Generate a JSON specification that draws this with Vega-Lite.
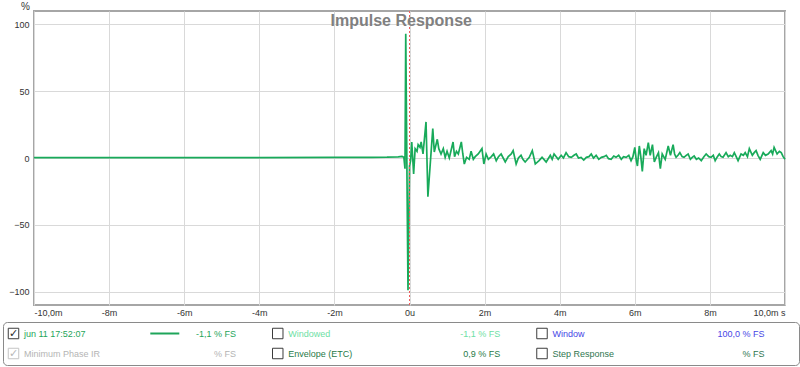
{
  "$schema": "https://vega.github.io/schema/vega-lite/v6.json",
  "padding": {"left": 2, "top": 0, "right": 0, "bottom": 0},
  "spacing": 4,
  "config": {
    "font": "Liberation Sans",
    "axis": {"labelFont": "Liberation Sans", "labelFontSize": 9, "labelColor": "#333333", "ticks": false, "domain": false, "gridColor": "#d9d9d9", "gridWidth": 1}
  },
  "datasets": {
    "trace": [
      {"t": -10, "v": 0.3}, {"t": -8, "v": 0.3}, {"t": -6, "v": 0.3}, {"t": -4, "v": 0.3}, {"t": -2, "v": 0.4},
      {"t": -1, "v": 0.5}, {"t": -0.6, "v": 0.6}, {"t": -0.3, "v": 0.9}, {"t": -0.2, "v": 1.2}, {"t": -0.15, "v": 0.5},
      {"t": -0.12, "v": -8}, {"t": -0.1, "v": 93}, {"t": -0.04, "v": -99}, {"t": 0.0, "v": -6}, {"t": 0.03, "v": -2},
      {"t": 0.06, "v": 12}, {"t": 0.11, "v": -12}, {"t": 0.15, "v": 7}, {"t": 0.2, "v": 5}, {"t": 0.23, "v": 10},
      {"t": 0.28, "v": 8}, {"t": 0.31, "v": 12}, {"t": 0.36, "v": 3}, {"t": 0.44, "v": 27}, {"t": 0.49, "v": -29},
      {"t": 0.62, "v": 22}, {"t": 0.66, "v": 4.5}, {"t": 0.74, "v": 14}, {"t": 0.78, "v": 7}, {"t": 0.84, "v": 3},
      {"t": 0.9, "v": 7}, {"t": 0.95, "v": 0.5}, {"t": 1.0, "v": 5}, {"t": 1.06, "v": 0}, {"t": 1.16, "v": 12},
      {"t": 1.2, "v": 1}, {"t": 1.25, "v": 5}, {"t": 1.3, "v": 3}, {"t": 1.38, "v": 12}, {"t": 1.42, "v": 3},
      {"t": 1.46, "v": -4.5}, {"t": 1.52, "v": 0.5}, {"t": 1.59, "v": -1}, {"t": 1.64, "v": 5}, {"t": 1.7, "v": -1},
      {"t": 1.75, "v": 1}, {"t": 1.83, "v": 3}, {"t": 1.93, "v": 7}, {"t": 1.98, "v": -4.5}, {"t": 2.04, "v": 3},
      {"t": 2.1, "v": -1}, {"t": 2.18, "v": 1}, {"t": 2.24, "v": 3}, {"t": 2.31, "v": -2}, {"t": 2.37, "v": 1},
      {"t": 2.44, "v": 3}, {"t": 2.55, "v": -3}, {"t": 2.63, "v": 1}, {"t": 2.71, "v": 3}, {"t": 2.76, "v": 5.5},
      {"t": 2.84, "v": -4.5}, {"t": 2.9, "v": 0}, {"t": 2.97, "v": 2}, {"t": 3.02, "v": -1}, {"t": 3.08, "v": -3},
      {"t": 3.19, "v": 0.5}, {"t": 3.27, "v": 5.5}, {"t": 3.35, "v": -4.5}, {"t": 3.45, "v": -2}, {"t": 3.53, "v": 0.5},
      {"t": 3.58, "v": -1}, {"t": 3.64, "v": -3}, {"t": 3.75, "v": 2}, {"t": 3.8, "v": -1}, {"t": 3.85, "v": 3},
      {"t": 3.96, "v": -1}, {"t": 4.04, "v": 2}, {"t": 4.1, "v": 0}, {"t": 4.17, "v": 4}, {"t": 4.24, "v": 1},
      {"t": 4.31, "v": 0.5}, {"t": 4.38, "v": 2}, {"t": 4.44, "v": 3}, {"t": 4.5, "v": 0}, {"t": 4.57, "v": 0.5},
      {"t": 4.64, "v": -1.5}, {"t": 4.71, "v": 0.5}, {"t": 4.78, "v": 1}, {"t": 4.84, "v": 3}, {"t": 4.9, "v": 0},
      {"t": 4.97, "v": 2}, {"t": 5.04, "v": -1}, {"t": 5.11, "v": 0.5}, {"t": 5.18, "v": 1}, {"t": 5.24, "v": 2},
      {"t": 5.3, "v": -0.5}, {"t": 5.37, "v": -1}, {"t": 5.44, "v": 1.5}, {"t": 5.5, "v": 0.5}, {"t": 5.57, "v": 2},
      {"t": 5.64, "v": -1}, {"t": 5.7, "v": 1}, {"t": 5.77, "v": 0.5}, {"t": 5.84, "v": 2}, {"t": 5.9, "v": -2},
      {"t": 5.95, "v": 1}, {"t": 6.0, "v": 8}, {"t": 6.04, "v": -2}, {"t": 6.07, "v": -6}, {"t": 6.12, "v": 9},
      {"t": 6.16, "v": 1}, {"t": 6.2, "v": -10}, {"t": 6.25, "v": 7}, {"t": 6.3, "v": 2}, {"t": 6.36, "v": 11.5},
      {"t": 6.41, "v": 2}, {"t": 6.47, "v": 10}, {"t": 6.52, "v": -3}, {"t": 6.57, "v": 0.5}, {"t": 6.63, "v": 4},
      {"t": 6.68, "v": -8}, {"t": 6.73, "v": 3}, {"t": 6.81, "v": -1}, {"t": 6.89, "v": 9}, {"t": 6.95, "v": 2},
      {"t": 7.02, "v": 10}, {"t": 7.06, "v": 3}, {"t": 7.1, "v": 0.5}, {"t": 7.15, "v": 2}, {"t": 7.2, "v": 4},
      {"t": 7.26, "v": 1}, {"t": 7.31, "v": 0.5}, {"t": 7.37, "v": 2}, {"t": 7.42, "v": 3}, {"t": 7.48, "v": -1},
      {"t": 7.53, "v": 0.5}, {"t": 7.58, "v": 1.5}, {"t": 7.64, "v": -1}, {"t": 7.7, "v": 0}, {"t": 7.77, "v": -2},
      {"t": 7.84, "v": 1}, {"t": 7.9, "v": 3}, {"t": 7.97, "v": 1}, {"t": 8.03, "v": 0.5}, {"t": 8.09, "v": 2},
      {"t": 8.14, "v": -2}, {"t": 8.2, "v": 1}, {"t": 8.25, "v": 3}, {"t": 8.3, "v": 1}, {"t": 8.35, "v": 0.5},
      {"t": 8.43, "v": 4}, {"t": 8.49, "v": 1}, {"t": 8.54, "v": 2}, {"t": 8.6, "v": 1}, {"t": 8.65, "v": 4},
      {"t": 8.7, "v": 1}, {"t": 8.75, "v": -2}, {"t": 8.83, "v": 3}, {"t": 8.89, "v": 2}, {"t": 8.94, "v": 4},
      {"t": 9.0, "v": 1}, {"t": 9.05, "v": 7}, {"t": 9.13, "v": 2}, {"t": 9.18, "v": 4}, {"t": 9.23, "v": 5.5},
      {"t": 9.28, "v": 2}, {"t": 9.34, "v": -1}, {"t": 9.42, "v": 4}, {"t": 9.48, "v": 2}, {"t": 9.55, "v": 3},
      {"t": 9.63, "v": 5.5}, {"t": 9.67, "v": 3}, {"t": 9.71, "v": 8}, {"t": 9.79, "v": 3}, {"t": 9.85, "v": 5},
      {"t": 9.9, "v": 4}, {"t": 9.95, "v": 1}, {"t": 10.0, "v": -1}
    ],
    "marker": [{"t": 0}],
    "heading": [{"title": "Impulse Response"}],
    "panel": [
      {"group": 0, "row": 0, "label": "jun 11 17:52:07", "value": "-1,1 % FS", "series": "meas", "check": "✓"},
      {"group": 0, "row": 1, "label": "Minimum Phase IR", "value": "% FS", "series": "minphase", "check": "✓"},
      {"group": 1, "row": 0, "label": "Windowed", "value": "-1,1 % FS", "series": "windowed", "check": ""},
      {"group": 1, "row": 1, "label": "Envelope (ETC)", "value": "0,9 % FS", "series": "etc", "check": ""},
      {"group": 2, "row": 0, "label": "Window", "value": "100,0 % FS", "series": "window", "check": ""},
      {"group": 2, "row": 1, "label": "Step Response", "value": "% FS", "series": "step", "check": ""}
    ],
    "frame": [{"a": 0, "b": 1}]
  },
  "vconcat": [
    {
      "width": 751,
      "height": 294,
      "view": {"stroke": "#a6a6a6", "strokeWidth": 2},
      "layer": [
        {
          "data": {"name": "trace"},
          "mark": {"type": "line", "color": "#18aa5a", "strokeWidth": 1.7, "interpolate": "linear"},
          "encoding": {
            "x": {"field": "t", "type": "quantitative", "scale": {"domain": [-10, 10], "nice": false},
              "axis": {"title": null, "values": [-10, -8, -6, -4, -2, 0, 2, 4, 6, 8, 10], "labelPadding": 3, "labelBaseline": "top",
                "labelExpr": "datum.value == -10 ? '-10,0m' : datum.value == 10 ? '10,0m s' : datum.value == 0 ? '0u' : datum.value + 'm'"}},
            "y": {"field": "v", "type": "quantitative", "scale": {"domain": [-110, 110], "nice": false},
              "axis": {"title": "%", "titleAngle": 0, "titleX": -9, "titleY": -2, "titleAlign": "center", "titleBaseline": "alphabetic", "titleFontSize": 10, "titleFontWeight": "normal", "titleColor": "#333333", "titleFont": "Liberation Sans",
                "values": [-100, -50, 0, 50, 100], "labelPadding": 5, "minExtent": 31, "maxExtent": 31}}
          }
        },
        {
          "data": {"name": "marker"},
          "mark": {"type": "rule", "color": "#ee5c5c", "strokeDash": [2, 2], "strokeWidth": 1},
          "encoding": {"x": {"field": "t", "type": "quantitative"}}
        },
        {
          "data": {"name": "heading"},
          "mark": {"type": "text", "font": "Liberation Sans", "fontSize": 16, "fontWeight": "bold", "color": "#808080", "align": "center", "baseline": "alphabetic"},
          "encoding": {
            "text": {"field": "title"},
            "x": {"datum": -0.22, "type": "quantitative"},
            "y": {"datum": 99, "type": "quantitative"}
          }
        }
      ]
    },
    {
      "width": 751,
      "height": 44,
      "view": {"stroke": null},
      "resolve": {"scale": {"x": "independent", "y": "independent"}},
      "layer": [
        {
          "data": {"name": "frame"},
          "mark": {"type": "rect", "fill": "white", "stroke": "#8a8a8a", "strokeWidth": 1, "cornerRadius": 4},
          "encoding": {
            "x": {"field": "a", "type": "quantitative", "scale": {"domain": [0, 1], "range": [-30.5, 765.5]}, "axis": null},
            "x2": {"field": "b"},
            "y": {"field": "a", "type": "quantitative", "scale": {"domain": [0, 1], "range": [0.5, 43.5]}, "axis": null},
            "y2": {"field": "b"}
          }
        },
        {
          "data": {"name": "panel"},
          "encoding": {
            "x": {"field": "group", "type": "quantitative", "scale": {"domain": [0, 2], "range": [-20.5, 508]}, "axis": null},
            "y": {"field": "row", "type": "quantitative", "scale": {"domain": [0, 1], "range": [11.5, 31.5]}, "axis": null}
          },
          "layer": [
            {
              "mark": {"type": "point", "shape": "square", "size": 110, "filled": false, "strokeWidth": 1, "opacity": 1},
              "encoding": {
                "stroke": {"condition": {"test": "datum.series === 'minphase'", "value": "#c4c4c4"}, "value": "#3c3c3c"}
              }
            },
            {
              "mark": {"type": "text", "font": "DejaVu Sans", "fontSize": 11, "align": "center", "baseline": "middle"},
              "encoding": {
                "text": {"field": "check"},
                "color": {"condition": {"test": "datum.series === 'minphase'", "value": "#b8b8b8"}, "value": "#2a2a2a"}
              }
            },
            {
              "mark": {"type": "text", "fontSize": 9, "align": "left", "baseline": "middle", "xOffset": 10.5},
              "encoding": {
                "text": {"field": "label"},
                "color": {"field": "series", "type": "nominal", "legend": null,
                  "scale": {"domain": ["meas", "minphase", "windowed", "etc", "window", "step"], "range": ["#1ea55a", "#b4b4b4", "#6ee0a4", "#1f7a48", "#4646e6", "#2f7650"]}}
              }
            },
            {
              "mark": {"type": "text", "fontSize": 9, "align": "right", "baseline": "middle", "xOffset": 222.5},
              "encoding": {
                "text": {"field": "value"},
                "color": {"field": "series", "type": "nominal", "legend": null}
              }
            },
            {
              "transform": [{"filter": "datum.series === 'meas'"}],
              "mark": {"type": "rule", "color": "#1ea55a", "strokeWidth": 2, "xOffset": 136.8, "x2Offset": 165.8},
              "encoding": {
                "x2": {"field": "group"},
                "y2": {"field": "row"}
              }
            }
          ]
        }
      ]
    }
  ]
}
